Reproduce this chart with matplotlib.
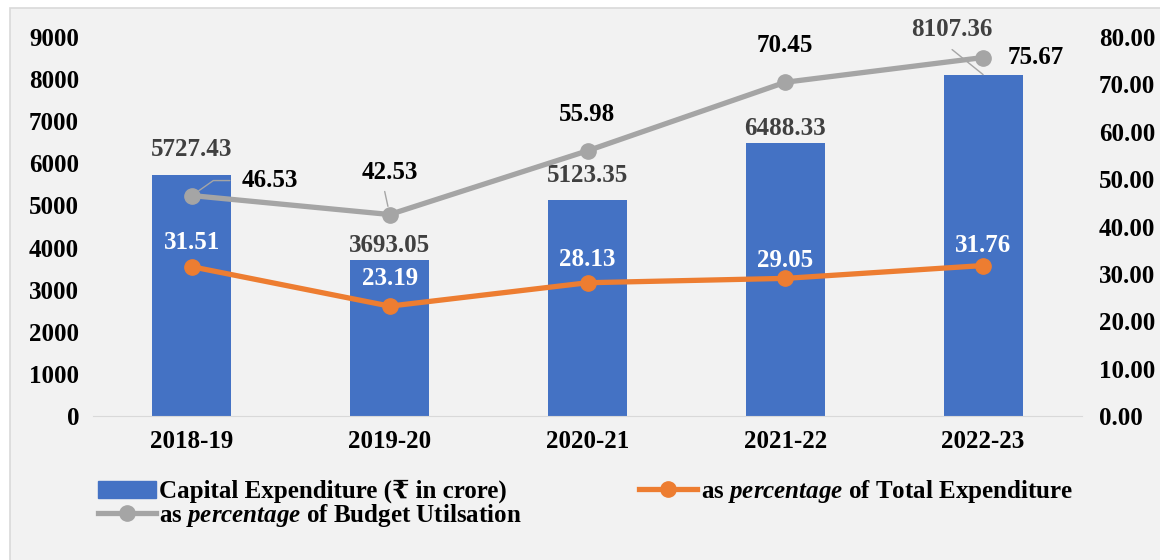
import numpy as np
import matplotlib
matplotlib.use("Agg")
from matplotlib import pyplot as plt
from matplotlib.patches import Rectangle
from matplotlib.lines import Line2D
from matplotlib.patches import Patch

plt.rcParams['font.family'] = ['Liberation Serif', 'DejaVu Serif', 'DejaVu Sans']
plt.rcParams['font.weight'] = 'bold'
plt.rcParams['mathtext.fontset'] = 'custom'
plt.rcParams['mathtext.it'] = 'Liberation Serif:italic:bold'
plt.rcParams['mathtext.rm'] = 'Liberation Serif:bold'

# ---数据---
years = ['2018-19', '2019-20', '2020-21', '2021-22', '2022-23']
capex = [5727.43, 3693.05, 5123.35, 6488.33, 8107.36]
pct_total = [31.51, 23.19, 28.13, 29.05, 31.76]
pct_budget = [46.53, 42.53, 55.98, 70.45, 75.67]

# 标签偏移(像素)
capex_off = [(0, 25), (0, 15), (0, 25), (0, 14), (-31, 45)]
budget_off = [(78, 15), (0, 42), (0, 36), (0, 37), (53, 0)]
total_off = [(0, 24), (0, 28), (0, 23), (0, 18), (0, 20)]

blue = '#4472c4'
orange = '#ed7d31'
gray = '#a5a5a5'
fs = 18

fig = plt.figure(figsize=(11.6, 5.6), dpi=100, facecolor='white')
fig.patches.append(Rectangle((10 / 1160, -0.01), 1.02, 1 - 8 / 560 + 0.01, transform=fig.transFigure,
                             facecolor='#f2f2f2', edgecolor='#d9d9d9', lw=1.2, zorder=-10))

ax = fig.add_axes([93 / 1160, 1 - 416 / 560, (1082 - 93) / 1160, (416 - 37) / 560])
ax.set_facecolor('none')
x = np.arange(len(years))
ax.bar(x, capex, width=0.4, color=blue, zorder=2)
ax.set_xlim(-0.5, len(years) - 0.5)
ax.set_ylim(0, 9000)
ax.set_yticks(np.arange(0, 9001, 1000))
ax.set_xticks(x)
ax.set_xticklabels(years)
ax.tick_params(axis='both', length=0, labelsize=fs, pad=10)
for s in ['top', 'right', 'left']:
    ax.spines[s].set_visible(False)
ax.spines['bottom'].set_color('#d9d9d9')

ax2 = ax.twinx()
ax2.set_ylim(0, 80)
ax2.set_yticks(np.arange(0, 81, 10))
ax2.set_yticklabels(['%.2f' % v for v in np.arange(0, 81, 10)])
ax2.tick_params(axis='y', length=0, labelsize=fs, pad=12)
for s in ax2.spines.values():
    s.set_visible(False)

ax2.plot(x, pct_budget, color=gray, lw=3.8, marker='o', ms=11, zorder=3)
ax2.plot(x, pct_total, color=orange, lw=3.8, marker='o', ms=11, zorder=3)

for i in range(len(years)):
    dx, dy = capex_off[i]
    ax.annotate('%.2f' % capex[i], (x[i], capex[i]), xytext=(dx, dy), textcoords='offset pixels',
                ha='center', va='center', fontsize=fs, color='#404040', annotation_clip=False)
    dx, dy = budget_off[i]
    ax2.annotate('%.2f' % pct_budget[i], (x[i], pct_budget[i]), xytext=(dx, dy), textcoords='offset pixels',
                 ha='center', va='center', fontsize=fs, color='black', annotation_clip=False)
    dx, dy = total_off[i]
    ax2.annotate('%.2f' % pct_total[i], (x[i], pct_total[i]), xytext=(dx, dy), textcoords='offset pixels',
                 ha='center', va='center', fontsize=fs, color='white', annotation_clip=False, zorder=4)

# 引线
ax2.annotate('', (x[0], pct_budget[0]), xytext=(38, 15), textcoords='offset pixels',
             arrowprops=dict(arrowstyle='-', color=gray, lw=1, shrinkA=0, shrinkB=6,
                             connectionstyle='angle,angleA=0,angleB=35,rad=0'))
ax2.annotate('', (x[1], pct_budget[1]), xytext=(-5, 23), textcoords='offset pixels',
             arrowprops=dict(arrowstyle='-', color=gray, lw=1, shrinkA=0, shrinkB=6))
ax.annotate('', (x[4], capex[4]), xytext=(-31, 25), textcoords='offset pixels',
            arrowprops=dict(arrowstyle='-', color=gray, lw=1, shrinkA=0, shrinkB=0))

handles = [Patch(color=blue),
           Line2D([], [], color=gray, lw=3.8, marker='o', ms=11),
           Line2D([], [], color=orange, lw=3.8, marker='o', ms=11)]
labels = ['Capital Expenditure (₹ in crore)',
          r'as $\mathit{percentage}$ of Budget Utilsation',
          r'as $\mathit{percentage}$ of Total Expenditure']
fig.legend(handles, labels, loc='upper left', bbox_to_anchor=(88 / 1160, 1 - 468 / 560), ncol=2,
           frameon=False, fontsize=fs, handlelength=2.3, handletextpad=0.15, columnspacing=4.7,
           labelspacing=-0.05, borderaxespad=0)

fig.savefig('out.png', dpi=100, facecolor=fig.get_facecolor())
